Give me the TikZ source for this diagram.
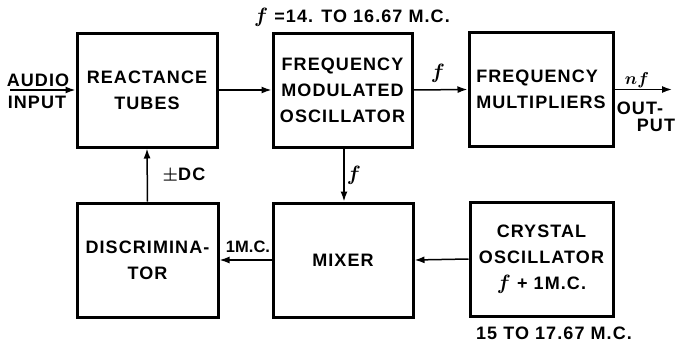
\documentclass[tikz,border=0pt]{standalone}
\usepackage{amsmath}
\usepackage{fontspec}
\setmainfont{Liberation Sans}[LetterSpace=6]
\usetikzlibrary{arrows.meta}
\newcommand{\txt}{\fontsize{18}{26}\selectfont\bfseries}
\newcommand{\ff}{{\fontsize{21}{21}\selectfont$\boldsymbol{f}$}}
\tikzset{
  blk/.style={draw, line width=3pt, minimum width=140pt, minimum height=114pt, align=center, inner sep=0pt, font=\txt},
  lbl/.style={inner sep=0pt, font=\txt},
  conn/.style={line width=1.5pt, -{Latex[length=10pt,width=7pt]}},
}
\begin{document}
\begin{tikzpicture}[x=1pt,y=-1pt]
\useasboundingbox (0,0) rectangle (675,343);
\node[blk] (b1) at (147,90) {REACTANCE\\TUBES};
\node[blk, minimum width=139pt] (b2) at (342.5,90) {FREQUENCY\\MODULATED\\OSCILLATOR};
\node[blk, minimum width=144pt, align=left] (b3) at (541,89.5) {FREQUENCY\\MULTIPLIERS};
\node[blk, minimum width=141pt] (b4) at (147.5,260) {DISCRIMINA-\\TOR};
\node[blk] (b5) at (343,260) {MIXER};
\node[blk, minimum width=143pt] (b6) at (541.5,259) {CRYSTAL\\OSCILLATOR\\\ff{} + 1M.C.};
\coordinate (ain) at (10,90);
\coordinate (aout) at (672,89.5);
\node[lbl] (taud) at (38,80) {AUDIO};
\node[lbl] (tinp) at (37,102) {INPUT};
\node[lbl] (ttop) at (352,17) {\ff{} =14. TO 16.67 M.C.};
\node[lbl] (tbot) at (554,333) {15 TO 17.67 M.C.};
\node[lbl] (tf1) at (438,73) {\ff};
\node[lbl] (tnf) at (637,80) {{\fontsize{19}{19}\selectfont$\boldsymbol{nf}$}};
\node[lbl] (tout) at (640,108) {OUT-};
\node[lbl] (tput) at (656,125) {PUT};
\node[lbl] (tf2) at (354,175) {\ff};
\node[lbl] (tdc) at (184,175) {$\boldsymbol{\pm}$DC};
\node[lbl, font=\fontsize{16.5}{16.5}\selectfont\bfseries] (t1mc) at (248,247) {\addfontfeature{LetterSpace=0}1M.C.};
\draw[conn] (ain) -- (b1.west);
\draw[conn] (b1.east) -- (b2.west);
\draw[conn] (b2.east) -- (b3.west);
\draw[conn] (b3.east) -- (aout);
\draw[conn] ([xshift=1.5pt]b2.south) -- ([xshift=1pt]b5.north);
\draw[conn] (b4.north) -- (b1.south);
\draw[conn] (b5.west) -- (b4.east);
\draw[conn] (b6.west) -- (b5.east);
\end{tikzpicture}
\end{document}
